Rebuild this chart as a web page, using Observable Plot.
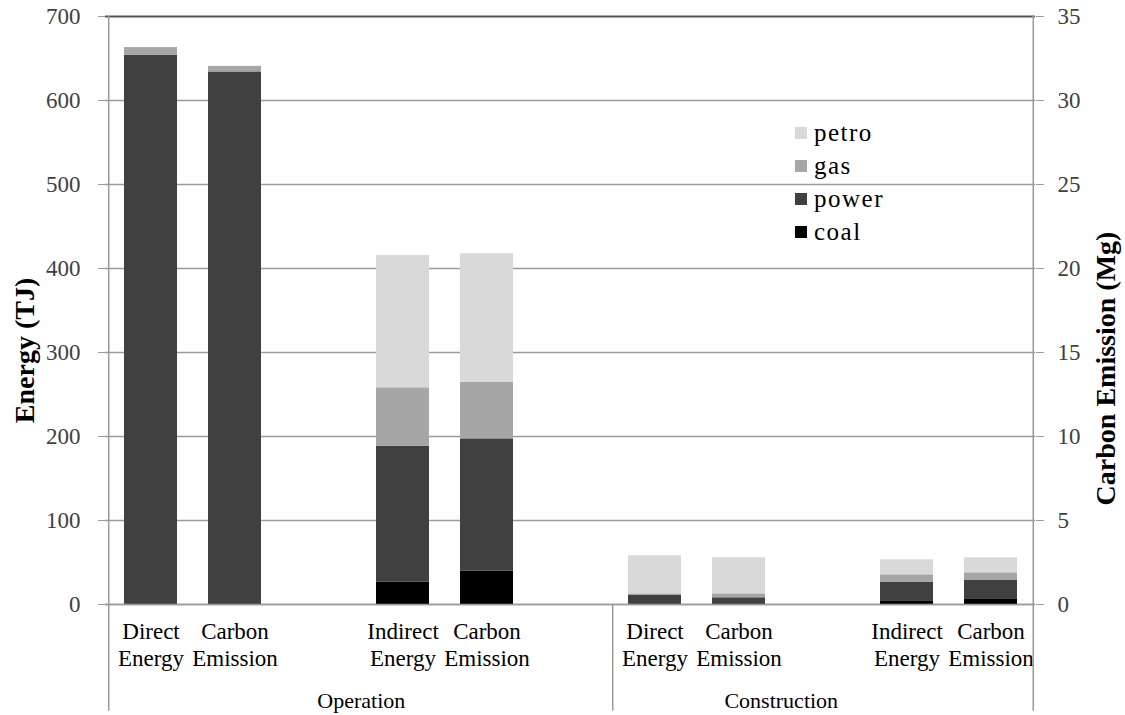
<!DOCTYPE html>
<html><head><meta charset="utf-8">
<script src="https://cdn.jsdelivr.net/npm/d3@7"></script>
<script src="https://cdn.jsdelivr.net/npm/@observablehq/plot@0.6"></script>
<style>
body{margin:0;background:#fff;}
#wrap{position:relative;width:1125px;height:715px;overflow:hidden;}
#legend{position:absolute;left:795px;top:116px;font-family:"Liberation Serif",serif;font-size:25px;letter-spacing:1.5px;color:#000;}
#legend .row{display:flex;align-items:center;height:33px;}
#legend .sw{width:12px;height:12px;margin-right:7px;}
</style></head><body><div id="wrap"><div id="legend"></div></div>
<script>
// x slots (gaps are empty Excel-style categories)
const slots = ["opDE","opCE","gap1","opIE","opIC","gap2","coDE","coCE","gap3","coIE","coIC"];
const barKeys = ["opDE","opCE","opIE","opIC","coDE","coCE","coIE","coIC"];
const tickLabels = ["Direct\nEnergy","Carbon\nEmission","Indirect\nEnergy","Carbon\nEmission","Direct\nEnergy","Carbon\nEmission","Indirect\nEnergy","Carbon\nEmission"];
const barUnit = ["TJ","Mg","TJ","Mg","TJ","Mg","TJ","Mg"];
const groups = ["Operation","Construction"];
const sources = ["coal","power","gas","petro"];
const colors = ["#000000","#404040","#a6a6a6","#d9d9d9"];
// values: TJ for energy bars, Mg for carbon bars
const coal  = [0, 0, 26.5, 1.98, 0, 0, 4.4, 0.34];
const power = [654, 31.7, 162, 7.88, 10.7, 0.4, 21.8, 1.09];
const gas   = [9, 0.33, 69.5, 3.37, 2, 0.235, 9.1, 0.455];
const petro = [0, 0, 157.5, 7.65, 45.3, 2.15, 17.9, 0.895];
const energyTicks = [0,100,200,300,400,500,600,700];
const carbonTicks = [0,5,10,15,20,25,30,35];
const mgToTJ = 700/35; // secondary axis ratio

const series = {coal, power, gas, petro};
const rows = [];
barKeys.forEach((k,i)=>{
  sources.forEach(s=>{
    const v = series[s][i];
    rows.push({key:k, source:s, value: barUnit[i]==="Mg" ? v*mgToTJ : v});
  });
});
const labelOf = Object.fromEntries(barKeys.map((k,i)=>[k,tickLabels[i]]));

const W = 1125, H = 715, mL = 105, mR = 90, mT = 16, mB = 111;
const step = (W - mL - mR) / slots.length;
const font = "Liberation Serif";

const chart = Plot.plot({
  width: W, height: H,
  marginLeft: mL, marginRight: mR, marginTop: mT, marginBottom: mB,
  style: {fontFamily: font, fontSize: "23px", background: "#fff", overflow: "visible"},
  x: {type: "band", domain: slots, paddingInner: 0.37, paddingOuter: 0.185, axis: null},
  y: {domain: [0,700], axis: null},
  color: {domain: sources, range: colors},
  marks: [
    Plot.gridY(energyTicks.filter(d=>d<700), {stroke:"#9a9a9a", strokeOpacity:1, strokeWidth:1.5}),
    Plot.ruleY([700], {stroke:"#555", strokeWidth:2}),
    Plot.barY(rows, {x:"key", y:"value", fill:"source"}),
    // left axis
    Plot.axisY(energyTicks, {anchor:"left", tickSize:7, tickPadding:18, stroke:"#9a9a9a", fill:"#404040", fontSize:23, label:null}),
    // right axis (carbon, Mg)
    Plot.axisY(carbonTicks.map(v=>v*mgToTJ), {anchor:"right", tickSize:8, tickPadding:14, tickFormat: d=>d/mgToTJ, stroke:"#9a9a9a", fill:"#404040", fontSize:23, label:null}),
    // x axis
    Plot.ruleY([0], {stroke:"#9a9a9a", strokeWidth:1.5}),
    Plot.axisX(barKeys, {anchor:"bottom", tickSize:0, tickPadding:15, tickFormat: d=>labelOf[d], fontSize:23, lineHeight:1.18, fill:"#000", label:null, style:{letterSpacing:"0.6px"}}),
    // frame/divider verticals
    Plot.ruleX(["opDE"], {dx:-step/2, y1:700, y2:-127, stroke:"#9a9a9a", strokeWidth:1.5}),
    Plot.ruleX(["coIC"], {dx:step/2, y1:700, y2:-127, stroke:"#9a9a9a", strokeWidth:1.5}),
    Plot.ruleX(["coDE"], {dx:-step/2, y1:0, y2:-127, stroke:"#9a9a9a", strokeWidth:1.5}),
    // group labels
    Plot.text([groups[0]], {x:()=>"gap1", y:()=>0, dx:step/2, dy:96, fontSize:22, fill:"#000"}),
    Plot.text([groups[1]], {x:()=>"coCE", y:()=>0, dx:step/2, dy:96, fontSize:22, fill:"#000"}),
    // axis titles
    Plot.text(["Energy (TJ)"], {frameAnchor:"left", textAnchor:"middle", dx:-80, dy:40, rotate:-90, fontSize:28, fontWeight:"bold", fill:"#000"}),
    Plot.text(["Carbon Emission (Mg)"], {frameAnchor:"right", textAnchor:"middle", dx:71, dy:58, rotate:-90, fontSize:28, fontWeight:"bold", fill:"#000"})
  ]
});
const wrap = document.getElementById("wrap");
wrap.insertBefore(chart, wrap.firstChild);

// legend (top-to-bottom: petro, gas, power, coal)
const legend = document.getElementById("legend");
sources.slice().reverse().forEach(s=>{
  const r = document.createElement("div"); r.className="row";
  const sw = document.createElement("div"); sw.className="sw"; sw.style.background = colors[sources.indexOf(s)];
  const t = document.createElement("span"); t.textContent = s;
  r.appendChild(sw); r.appendChild(t); legend.appendChild(r);
});
</script></body></html>
